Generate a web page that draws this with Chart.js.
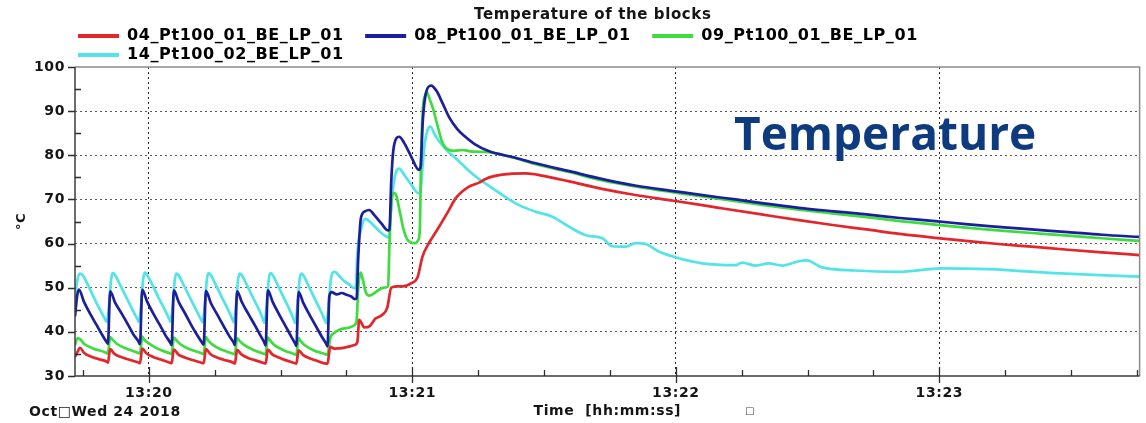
<!DOCTYPE html>
<html>
<head>
<meta charset="utf-8">
<title>Temperature of the blocks</title>
<script src="https://cdn.jsdelivr.net/npm/chart.js@4.4.1/dist/chart.umd.min.js"></script>
<style>
  html, body { margin: 0; padding: 0; background: #ffffff; }
  canvas { display: block; }
</style>
</head>
<body>
<canvas id="blocks" width="1146" height="423"></canvas>
<script>
// Time is in seconds relative to 13:20:00 on Oct 24 2018.
const chartTitle = 'Temperature of the blocks';
const xAxisTitle = 'Time  [hh:mm:ss]';
const yAxisTitle = '°C';
const dateLabel = 'Oct\u25A1Wed 24 2018';
const watermark = 'Temperature';

const timeStart = -16.8;
const timeEnd = 225.6;
const minuteTicks = [0, 60, 120, 180];
const minuteLabels = ['13:20', '13:21', '13:22', '13:23'];
const quarterTicks = [-15, 0, 15, 30, 45, 60, 75, 90, 105, 120, 135, 150, 165, 180, 195, 210, 225];
const tempTicksMinor = [35, 45, 55, 65, 75, 85, 95];

const seriesLabels = ['04_Pt100_01_BE_LP_01', '08_Pt100_01_BE_LP_01', '09_Pt100_01_BE_LP_01', '14_Pt100_02_BE_LP_01'];
const seriesColors = ['#e2262b', '#1b1f9e', '#3edc3e', '#52e4e6'];

// 04_Pt100_01_BE_LP_01
const time04 = [-16.8, -16.2, -15.7, -14.7, -13.2, -11.7, -9.5,
  -9.3, -8.8, -7.8, -6.3, -4.8, -2.5,
  -2.0, -1.5, -0.5, 1.0, 2.5, 4.8,
  5.2, 5.7, 6.7, 8.2, 9.7, 12.0,
  12.5, 13.0, 14.0, 15.5, 17.0, 19.3,
  19.6, 20.1, 21.1, 22.6, 24.1, 26.3,
  26.6, 27.1, 28.1, 29.6, 31.1, 33.3,
  33.6, 34.1, 35.1, 36.6, 38.1, 40.4,
  40.7, 41.3, 42.3, 44.0, 45.7, 46.8, 47.5,
  47.9, 49.1, 50.3, 51.6, 53.1, 54.3, 55.2, 56.4, 57.8, 59.7,
  61.2, 62.3, 63.9, 66.1, 68.0, 69.9, 72.9, 75.2, 76.8, 80.5,
  85.9, 89.5, 95.7, 103.2, 110.8, 119.5, 129.8, 139.5, 148.0, 155.7,
  163.4, 171.0, 179.0, 186.0, 193.4, 201.0, 209.3, 217.0, 225.6];
const temp04 = [34.3, 35.5, 36.4, 35.2, 34.4, 33.9, 33.2,
  33.0, 36.1, 35.0, 34.3, 33.8, 33.1,
  32.9, 36.2, 35.1, 34.3, 33.8, 33.0,
  32.9, 36.0, 34.9, 34.2, 33.7, 33.0,
  32.9, 36.1, 35.0, 34.2, 33.7, 33.0,
  32.8, 35.9, 34.9, 34.1, 33.6, 32.9,
  32.8, 36.0, 34.9, 34.2, 33.6, 32.9,
  32.8, 35.8, 34.8, 34.0, 33.5, 32.8,
  32.8, 36.6, 36.2, 36.3, 36.7, 37.0, 37.8,
  42.7, 41.0, 41.3, 43.0, 43.8, 45.5, 50.0, 50.3, 50.3, 51.0,
  52.4, 57.0, 60.3, 63.8, 67.0, 70.3, 72.9, 73.8, 74.7, 75.6,
  75.9, 75.4, 74.1, 72.4, 71.0, 69.7, 68.1, 66.6, 65.3, 64.2,
  63.2, 62.2, 61.3, 60.6, 59.9, 59.3, 58.6, 58.0, 57.4];

// 08_Pt100_01_BE_LP_01
const time08 = [-16.8, -16.3, -15.9, -14.8, -13.3, -11.8, -10.6, -9.6,
  -9.3, -8.8, -7.7, -6.2, -4.7, -3.5, -2.4,
  -2.0, -1.5, -0.4, 1.1, 2.6, 3.8, 4.8,
  5.2, 5.7, 6.8, 8.3, 9.8, 11.0, 12.1,
  12.5, 13.0, 14.1, 15.6, 17.1, 18.3, 19.3,
  19.6, 20.1, 21.2, 22.7, 24.2, 25.4, 26.3,
  26.6, 27.1, 28.2, 29.7, 31.2, 32.4, 33.3,
  33.6, 34.1, 35.2, 36.7, 38.2, 39.4, 40.4,
  40.7, 41.1, 41.6, 42.8, 43.9, 45.0, 46.1, 46.9,
  47.3, 47.7, 48.3, 49.2, 50.2, 51.4, 53.0, 54.4,
  54.8, 55.2, 55.8, 57.0, 58.2, 59.8, 61.5,
  61.9, 62.4, 63.2, 64.3, 65.5, 66.8, 68.4, 70.2, 71.8, 74.1, 77.5,
  82.8, 88.1, 95.7, 103.3, 111.0, 119.5, 126.5, 133.6, 140.0, 148.0,
  156.0, 163.4, 171.0, 179.0, 186.0, 193.4, 201.0, 209.3, 217.0, 225.6];
const temp08 = [43.5, 48.2, 49.6, 46.9, 44.0, 41.4, 39.3, 37.7,
  37.3, 49.2, 46.7, 44.2, 41.6, 39.4, 37.9,
  37.2, 49.5, 46.9, 44.0, 41.4, 39.2, 37.7,
  37.0, 49.4, 46.8, 44.1, 41.3, 39.3, 37.6,
  37.1, 49.3, 46.6, 43.9, 41.2, 39.1, 37.6,
  37.0, 49.2, 46.7, 44.0, 41.4, 39.2, 37.6,
  36.9, 49.4, 46.8, 43.9, 41.2, 39.0, 37.4,
  36.8, 49.0, 46.5, 43.7, 41.0, 38.9, 37.3,
  36.7, 48.0, 49.0, 48.5, 48.8, 48.4, 48.0, 47.4,
  47.6, 57.0, 65.8, 67.3, 67.6, 66.4, 64.5, 63.0,
  63.1, 74.0, 82.0, 84.2, 82.7, 79.6, 76.7,
  77.5, 88.0, 94.5, 95.8, 94.6, 92.0, 88.6, 86.0, 84.4, 82.6, 80.9,
  79.6, 78.2, 76.4, 74.6, 73.1, 71.9, 70.9, 70.0, 69.1, 68.1,
  67.3, 66.6, 65.8, 65.1, 64.4, 63.8, 63.2, 62.6, 62.0, 61.5];

// 09_Pt100_01_BE_LP_01
const time09 = [-16.8, -16.2, -15.6, -14.6, -12.6, -10.0,
  -9.3, -8.8, -8.3, -7.3, -5.3, -2.6,
  -2.0, -1.5, -1.0, 0.0, 2.0, 4.6,
  5.2, 5.7, 6.2, 7.2, 9.2, 11.9,
  12.5, 13.0, 13.5, 14.5, 16.5, 19.0,
  19.6, 20.1, 20.6, 21.6, 23.6, 26.0,
  26.6, 27.1, 27.6, 28.6, 30.6, 33.0,
  33.6, 34.1, 34.6, 35.6, 37.6, 40.1,
  40.7, 41.3, 42.3, 43.4, 45.7, 46.8,
  47.3, 47.7, 48.2, 48.7, 49.4, 50.2, 51.4, 52.5, 53.6, 54.5,
  54.8, 55.2, 55.7, 56.3, 57.2, 58.0, 58.8, 59.8, 60.7, 61.3, 61.7,
  62.0, 62.4, 62.9, 63.3, 64.0, 64.8, 65.8, 66.8, 67.7, 69.5, 71.4, 73.2, 75.2, 77.5,
  82.8, 88.1, 95.7, 103.3, 111.0, 119.5, 126.5, 133.6, 140.0, 148.0,
  156.0, 163.4, 171.0, 179.0, 186.0, 193.4, 201.0, 209.3, 217.0, 225.6];
const temp09 = [37.0, 38.6, 38.3, 37.2, 36.2, 35.4,
  35.1, 38.8, 38.3, 37.3, 36.3, 35.3,
  35.1, 38.9, 38.2, 37.4, 36.2, 35.2,
  35.0, 38.7, 38.2, 37.2, 36.1, 35.2,
  35.0, 38.8, 38.1, 37.1, 36.0, 35.1,
  34.9, 38.6, 38.0, 37.1, 36.0, 35.1,
  34.9, 38.7, 38.1, 37.0, 35.9, 35.0,
  34.8, 38.6, 37.9, 36.9, 35.8, 35.0,
  34.8, 38.5, 39.8, 40.5, 41.0, 41.5,
  42.5, 50.0, 53.4, 52.0, 49.0, 48.2, 48.8, 49.6, 50.0, 50.3,
  60.0, 68.5, 71.5, 71.0, 67.0, 63.2, 61.0, 60.2, 60.1, 60.7, 63.0,
  80.0, 90.5, 93.5, 94.2, 92.6, 90.3, 86.5, 83.0, 81.6, 81.0, 81.2, 80.9, 80.8, 80.7,
  79.5, 78.0, 76.2, 74.3, 72.9, 71.6, 70.6, 69.6, 68.7, 67.7,
  66.8, 66.0, 65.1, 64.3, 63.6, 63.0, 62.4, 61.8, 61.2, 60.6];

// 14_Pt100_02_BE_LP_01
const time14 = [-16.8, -16.3, -15.7, -15.1, -14.1, -12.6, -11.1, -9.9, -9.6,
  -9.0, -8.6, -8.2, -7.7, -6.7, -5.2, -3.7, -2.5, -2.3,
  -1.7, -1.3, -0.9, -0.4, 0.6, 2.1, 3.6, 4.7, 4.9,
  5.5, 5.9, 6.3, 6.8, 7.8, 9.3, 10.8, 12.0, 12.2,
  12.8, 13.2, 13.6, 14.1, 15.1, 16.6, 18.1, 19.1, 19.3,
  19.9, 20.3, 20.7, 21.2, 22.2, 23.7, 25.2, 26.1, 26.3,
  26.9, 27.3, 27.7, 28.2, 29.2, 30.7, 32.2, 33.1, 33.3,
  33.9, 34.3, 34.7, 35.2, 36.2, 37.7, 39.2, 40.2, 40.4,
  41.0, 41.4, 41.9, 42.4, 43.4, 44.5, 45.7, 46.8,
  47.1, 47.5, 48.4, 49.3, 50.7, 52.5, 54.3, 54.7,
  55.1, 55.6, 56.4, 57.0, 58.2, 59.8, 61.4, 61.8,
  62.3, 62.8, 63.5, 64.1, 65.2, 66.8, 68.4, 70.0, 71.4, 73.0,
  75.2, 76.8, 80.5, 84.3, 88.1, 91.9, 95.7, 99.5, 103.3, 105.5,
  108.6, 110.8, 113.1, 116.1, 119.5, 126.0, 133.6, 135.1, 138.2, 141.1,
  144.2, 148.0, 149.8, 153.3, 160.8, 170.7, 180.5, 191.1, 206.3, 225.6];
const temp14 = [47.5, 51.5, 53.2, 52.9, 51.1, 48.0, 45.0, 42.8, 42.3,
  46.5, 51.7, 53.3, 52.9, 51.0, 48.0, 45.0, 42.7, 42.3,
  46.6, 51.8, 53.4, 52.9, 51.1, 48.0, 45.1, 42.8, 42.3,
  46.4, 51.6, 53.2, 52.8, 50.9, 47.9, 44.9, 42.6, 42.2,
  46.5, 51.7, 53.3, 52.9, 51.0, 47.9, 44.9, 42.7, 42.2,
  46.4, 51.6, 53.2, 52.8, 50.9, 47.8, 44.8, 42.6, 42.1,
  46.5, 51.7, 53.3, 52.9, 50.9, 47.8, 44.7, 42.5, 42.0,
  46.4, 51.6, 53.2, 52.8, 50.8, 47.7, 44.6, 42.4, 42.0,
  46.5, 51.5, 53.4, 53.6, 52.6, 51.5, 50.7, 49.9,
  50.0, 58.0, 63.5, 65.6, 64.6, 62.8, 61.5, 61.4,
  67.0, 72.5, 76.5, 77.0, 75.5, 73.3, 71.4, 71.5,
  77.0, 82.5, 85.8, 86.5, 84.5, 82.3, 80.6, 79.2, 77.9, 76.4,
  74.6, 73.5, 71.0, 68.7, 67.2, 66.1, 63.8, 61.9, 61.2, 59.4,
  59.3, 60.1, 59.9, 58.2, 57.0, 55.5, 55.1, 55.7, 55.0, 55.5,
  55.0, 56.0, 56.2, 54.6, 53.9, 53.6, 54.4, 54.2, 53.3, 52.5];

const seriesTimes = [time04, time08, time09, time14];
const seriesTemps = [temp04, temp08, temp09, temp14];

const FONT = '"DejaVu Sans", Verdana, sans-serif';
const INK = '#151515';

// Slightly widened lettering for all canvas text.
const textSpacing = {
  id: 'textSpacing',
  beforeUpdate(chart) { chart.ctx.letterSpacing = '0.6px'; },
  beforeDraw(chart) { chart.ctx.letterSpacing = '0.6px'; }
};

// Plot frame plus inner/outer tick marks.
const plotFrame = {
  id: 'plotFrame',
  afterDatasetsDraw(chart) {
    const { ctx, chartArea: a, scales: { x, y } } = chart;
    ctx.save();
    ctx.setLineDash([]);
    ctx.lineWidth = 1.5;
    ctx.strokeStyle = '#8c8c8c';
    ctx.beginPath();
    ctx.moveTo(a.left, a.top);
    ctx.lineTo(a.right, a.top);
    ctx.lineTo(a.right, a.bottom);
    ctx.stroke();
    ctx.strokeStyle = '#3c3c3c';
    ctx.beginPath();
    ctx.moveTo(a.left, a.top);
    ctx.lineTo(a.left, a.bottom);
    ctx.lineTo(a.right, a.bottom);
    ctx.stroke();

    ctx.lineWidth = 1.3;
    ctx.strokeStyle = '#2e2e2e';
    ctx.beginPath();
    y.ticks.forEach(t => {
      const p = Math.round(y.getPixelForValue(t.value)) + 0.5;
      ctx.moveTo(a.left - 7, p);
      ctx.lineTo(a.left, p);
    });
    tempTicksMinor.forEach(v => {
      const p = Math.round(y.getPixelForValue(v)) + 0.5;
      ctx.moveTo(a.left, p);
      ctx.lineTo(a.left + 6, p);
    });
    quarterTicks.forEach(v => {
      const p = Math.round(x.getPixelForValue(v)) + 0.5;
      if (minuteTicks.includes(v)) {
        ctx.moveTo(p, a.bottom - 9);
        ctx.lineTo(p, a.bottom + 7);
      } else {
        ctx.moveTo(p, a.bottom - 6);
        ctx.lineTo(p, a.bottom);
      }
    });
    ctx.stroke();
    ctx.restore();
  }
};

// Date stamp, the small marker box and the large heading word.
const extraText = {
  id: 'extraText',
  afterDraw(chart) {
    const { ctx } = chart;
    ctx.save();
    ctx.letterSpacing = '0.6px';
    ctx.fillStyle = INK;
    ctx.textBaseline = 'middle';
    ctx.textAlign = 'left';
    ctx.font = 'bold 14px ' + FONT;
    ctx.fillText(dateLabel, 29, 412);
    ctx.font = '10px ' + FONT;
    ctx.fillStyle = '#444444';
    ctx.fillText('\u25A1', 745, 411);

    ctx.letterSpacing = '0px';
    ctx.textBaseline = 'alphabetic';
    ctx.fillStyle = '#0e3b7f';
    ctx.font = '700 46px "Open Sans", "Noto Sans", sans-serif';
    ctx.fillText(watermark, 734, 150);
    ctx.restore();
  }
};

const datasets = seriesLabels.map((label, i) => ({
  label,
  data: seriesTimes[i].map((t, k) => ({ x: t, y: seriesTemps[i][k] })),
  borderColor: seriesColors[i],
  backgroundColor: seriesColors[i],
  borderWidth: 2.7,
  pointRadius: 0,
  pointHoverRadius: 0,
  cubicInterpolationMode: 'monotone',
  fill: false
}));

new Chart(document.getElementById('blocks'), {
  type: 'line',
  data: { datasets },
  options: {
    responsive: false,
    animation: false,
    devicePixelRatio: 1,
    events: [],
    layout: { padding: { right: 4 } },
    plugins: {
      title: {
        display: true,
        // trailing spaces nudge the centred heading a little to the left
        text: chartTitle + '     ',
        fullSize: false,
        color: INK,
        font: { family: FONT, size: 15, weight: 'bold' },
        padding: { top: 6, bottom: 1 }
      },
      legend: {
        position: 'top',
        align: 'start',
        fullSize: false,
        maxHeight: 42,
        labels: {
          boxWidth: 41,
          boxHeight: 4,
          padding: 3,
          color: INK,
          font: { family: FONT, size: 16, weight: 'bold' },
          generateLabels: (chart) => chart.data.datasets.map((ds, i) => ({
            text: ds.label + '   ',
            fillStyle: ds.borderColor,
            strokeStyle: ds.borderColor,
            lineWidth: 0,
            hidden: false,
            datasetIndex: i
          }))
        }
      },
      tooltip: { enabled: false }
    },
    scales: {
      x: {
        type: 'linear',
        min: timeStart,
        max: timeEnd,
        afterBuildTicks: (axis) => { axis.ticks = quarterTicks.map(v => ({ value: v })); },
        afterFit: (axis) => { axis.height = 47; },
        ticks: {
          autoSkip: false,
          maxRotation: 0,
          padding: 9,
          color: INK,
          font: { family: FONT, size: 14, weight: 'bold' },
          callback: (value) => {
            const idx = minuteTicks.indexOf(value);
            return idx >= 0 ? minuteLabels[idx] : '';
          }
        },
        grid: {
          drawTicks: false,
          lineWidth: 1,
          color: (c) => (c.tick && minuteTicks.includes(c.tick.value)) ? '#2a2a2a' : 'rgba(0,0,0,0)'
        },
        border: { display: false, dash: [2, 3] },
        title: {
          display: true,
          text: xAxisTitle,
          color: INK,
          font: { family: FONT, size: 14, weight: 'bold' },
          padding: { top: 0, bottom: 3.5 }
        }
      },
      y: {
        min: 30,
        max: 100,
        afterFit: (axis) => { axis.width = 75; },
        ticks: {
          stepSize: 10,
          padding: 10,
          color: INK,
          font: { family: FONT, size: 14, weight: 'bold' }
        },
        grid: {
          drawTicks: false,
          lineWidth: 1,
          color: (c) => (c.tick && c.tick.value > 30 && c.tick.value < 100) ? '#5a5a5a' : 'rgba(0,0,0,0)'
        },
        border: { display: false, dash: [2, 3] },
        title: {
          display: true,
          text: yAxisTitle,
          color: INK,
          font: { family: FONT, size: 13, weight: 'bold' },
          padding: { top: 14, bottom: 0 }
        }
      }
    }
  },
  plugins: [textSpacing, plotFrame, extraText]
});
</script>
</body>
</html>
